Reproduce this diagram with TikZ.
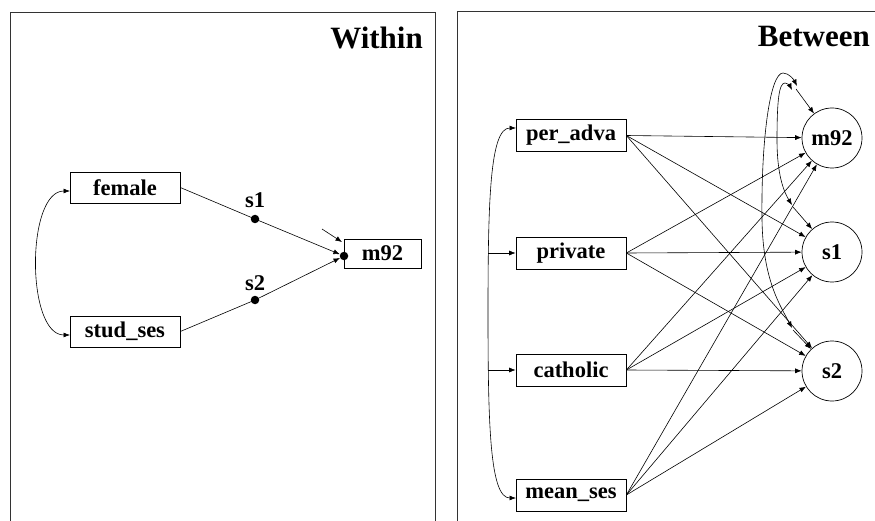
\documentclass[tikz,border=0pt]{standalone}
\usepackage{fontspec}
\setmainfont{Liberation Serif}
\usetikzlibrary{arrows.meta}
\begin{document}
\begin{tikzpicture}[x=1pt,y=-1pt,
  lbl/.style={font=\fontsize{22.5}{25}\selectfont\bfseries},
  obs/.style={draw, lbl, minimum width=110pt, minimum height=31pt, inner sep=0pt, line width=0.7pt},
  lat/.style={draw, circle, lbl, minimum size=60pt, inner sep=0pt, line width=0.7pt},
  dotn/.style={circle, fill, inner sep=0pt, minimum size=8.5pt},
  arr/.style={-{Latex[length=6.5pt,width=5pt]}, line width=0.6pt},
  biarr/.style={{Latex[length=6.5pt,width=5pt]}-{Latex[length=6.5pt,width=5pt]}, line width=0.6pt},
  frame/.style={line width=1pt, draw=black!80},
  title/.style={font=\fontsize{31}{36}\selectfont\bfseries, inner sep=0pt}
]
\useasboundingbox (0,0) rectangle (875,521);

% ---------- Within panel ----------
\draw[frame] (10,521) -- (10,13) -- (435,13) -- (435,521);
\node[title, anchor=base east] (tw) at (423,49) {Within};

\node[obs] (female) at (125,187.5) {female};
\node[obs] (studses) at (125,331.5) {stud\_ses};
\node[obs, minimum width=77pt, minimum height=29pt] (m92w) at (382.5,253.5) {m92};

\node[dotn] (dw) at (344,256) {};
\node[dotn] (d1) at (255,219) {};
\node[dotn] (d2) at (255,300) {};
\node[lbl] (s1w) at (255,200) {s1};
\node[lbl] (s2w) at (255,283) {s2};

\draw[arr] (female.east) -- (d1.center) -- (dw);
\draw[arr] (studses.east) -- (d2.center) -- (dw);

\coordinate (rw) at (322,229);
\coordinate (rt) at (342,242);
\draw[arr] (rw) -- (rt);

\coordinate (fw) at (70,191);
\coordinate (sw) at (70,335);
\draw[biarr] (fw) .. controls (26,191) and (26,335) .. (sw);

% ---------- Between panel ----------
\draw[frame] (457,521) -- (457,12) -- (875,12);
\node[title, anchor=base east] (tb) at (870,47) {Between};

\node[obs, minimum height=32pt] (pa) at (571,135.5) {per\_adva};
\node[obs, minimum height=32pt] (pr) at (571,253) {private};
\node[obs, minimum height=32pt] (ca) at (571,370) {catholic};
\node[obs, minimum height=32pt] (ms) at (571,495) {mean\_ses};

\node[lat] (cm) at (832,138) {m92};
\node[lat] (c1) at (832,252) {s1};
\node[lat] (c2) at (832,371) {s2};

\foreach \b in {pa,pr,ca,ms}
  \foreach \c in {cm,c1,c2}
    \draw[arr] (\b.east) -- (\c);

\coordinate (pw) at (516,128);
\coordinate (mw) at (516,498);
\draw[biarr] (pw) .. controls (490,128) and (488,200) .. (488,313)
                  .. controls (488,426) and (490,498) .. (mw);
\coordinate (b1) at (488,253);
\coordinate (b2) at (488,370);
\draw[arr] (b1) -- (pr.west);
\draw[arr] (b2) -- (ca.west);

% covariances among latent variables
\coordinate (A1) at (792,90);
\coordinate (B1) at (792,205);
\draw[biarr] (B1) .. controls (784,192) and (777,175) .. (777,140)
                  .. controls (777,100) and (779,83) .. (785,83)
                  .. controls (788,83) and (790,86) .. (A1);
\coordinate (A2) at (797,86);
\coordinate (B2) at (792,328);
\draw[biarr] (B2) .. controls (780,305) and (763,280) .. (762,220)
                  .. controls (761,140) and (770,73) .. (783,73)
                  .. controls (789,73) and (794,80) .. (A2);
\coordinate (J1) at (796,89);
\coordinate (J2) at (793,207);
\coordinate (J3) at (793,330);
\draw[arr] (J1) -- (cm);
\draw[arr] (J2) -- (c1);
\draw[arr] (J3) -- (c2);
\end{tikzpicture}
\end{document}
